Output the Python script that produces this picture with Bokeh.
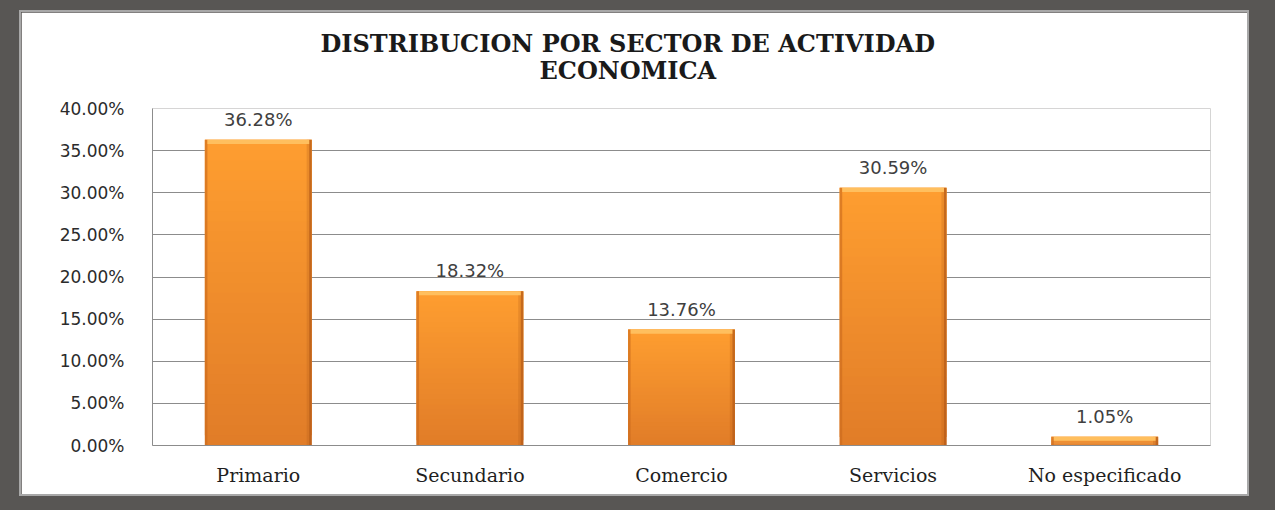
from bokeh.plotting import figure
from bokeh.models import (Range1d, FixedTicker, NumeralTickFormatter, ColumnDataSource,
                          LabelSet, Title, GlobalInlineStyleSheet)
from bokeh.core.properties import value
from bokeh.embed import file_html
from bokeh.resources import INLINE

# ---- data ----
categories = ["Primario", "Secundario", "Comercio", "Servicios", "No especificado"]
shares = [0.3628, 0.1832, 0.1376, 0.3059, 0.0105]
y_ticks = [0.0, 0.05, 0.10, 0.15, 0.20, 0.25, 0.30, 0.35, 0.40]
title_line1 = "DISTRIBUCION  POR SECTOR  DE ACTIVIDAD"
title_line2 = "ECONOMICA"

# ---- style ----
SERIF = "DejaVu Serif"
SANS = "DejaVu Sans"
FRAME_DARK = "#585654"
GRID = "#8c8c8c"
BAR_W = 0.505
TOP_RGB = (255, 158, 48)
BOT_RGB = (224, 124, 40)

xs = [i + 0.5 for i in range(len(categories))]

p = figure(width=1226, height=482, output_backend="svg", toolbar_location=None,
           x_range=Range1d(0, len(categories)), y_range=Range1d(0, 0.40),
           min_border_left=131, min_border_right=37, min_border_top=96, min_border_bottom=49,
           border_fill_color="white", background_fill_color="white",
           outline_line_color=None, margin=(12, 0, 0, 21))
p.stylesheets = [GlobalInlineStyleSheet(css=f"html, body {{ background-color: {FRAME_DARK}; }}")]
p.styles = {"outline": "2px solid #a8a8a8"}

# gradient bars built from overlapping slices of each value
N = 30
left, right, bottom, top, colors = [], [], [], [], []
for x, v in zip(xs, shares):
    for j in range(N):
        f = (j + 0.5) / N
        c = tuple(int(round(BOT_RGB[k] + (TOP_RGB[k] - BOT_RGB[k]) * f)) for k in range(3))
        left.append(x - BAR_W / 2)
        right.append(x + BAR_W / 2)
        bottom.append(v * j / N)
        top.append(min(v, v * (j + 2) / N))
        colors.append("#%02x%02x%02x" % c)
p.quad(left=left, right=right, bottom=bottom, top=top, fill_color=colors, line_color=None)

# darker side edges (soft)
edge = 0.012
p.quad(left=[x - BAR_W / 2 for x in xs], right=[x - BAR_W / 2 + edge for x in xs],
       bottom=[0] * len(xs), top=shares, fill_color="#c9691d", line_color=None, fill_alpha=0.6)
p.quad(left=[x + BAR_W / 2 - edge for x in xs], right=[x + BAR_W / 2 for x in xs],
       bottom=[0] * len(xs), top=shares, fill_color="#b35a18", line_color=None, fill_alpha=0.75)
p.quad(left=[x + BAR_W / 2 - edge * 2 for x in xs], right=[x + BAR_W / 2 - edge for x in xs],
       bottom=[0] * len(xs), top=shares, fill_color="#b35a18", line_color=None, fill_alpha=0.25)
# light top bevel
p.quad(left=[x - BAR_W / 2 + edge for x in xs], right=[x + BAR_W / 2 - edge for x in xs],
       bottom=[max(v - 0.005, v * 0.4) for v in shares], top=shares,
       fill_color="#ffbf5e", line_color=None)

# value labels
src = ColumnDataSource(dict(x=xs, y=shares, t=["%.2f%%" % (v * 100) for v in shares]))
p.add_layout(LabelSet(x="x", y="y", text="t", source=src, y_offset=14,
                      text_align="center", text_baseline="alphabetic",
                      text_font=value(SANS), text_font_size=value("18px"),
                      text_color="#404040"))

# axes
p.yaxis.ticker = FixedTicker(ticks=y_ticks)
p.yaxis.formatter = NumeralTickFormatter(format="0.00%")
p.yaxis.major_tick_line_color = None
p.yaxis.minor_tick_line_color = None
p.yaxis.axis_line_color = GRID
p.yaxis.major_label_standoff = 22
p.yaxis.major_label_text_font = SANS
p.yaxis.major_label_text_font_size = "17px"
p.yaxis.major_label_text_color = "#2b2b2b"

p.xaxis.ticker = FixedTicker(ticks=xs)
p.xaxis.major_label_overrides = {x: c for x, c in zip(xs, categories)}
p.xaxis.major_tick_line_color = None
p.xaxis.minor_tick_line_color = None
p.xaxis.axis_line_color = GRID
p.xaxis.major_label_standoff = 12
p.xaxis.major_label_text_font = SERIF
p.xaxis.major_label_text_font_size = "19px"
p.xaxis.major_label_text_color = "#1f1f1f"

p.xgrid.grid_line_color = None
p.ygrid.ticker = FixedTicker(ticks=y_ticks)
p.ygrid.grid_line_color = GRID

# title (two lines)
p.add_layout(Title(text=title_line2, align="left", offset=387, standoff=47,
                   text_font=SERIF, text_font_size="24px", text_font_style="bold",
                   text_color="#1a1a1a"), "above")
p.add_layout(Title(text=title_line1, align="left", offset=168, standoff=-55,
                   text_font=SERIF, text_font_size="24px", text_font_style="bold",
                   text_color="#1a1a1a"), "above")

open("out.html", "w").write(file_html(p, INLINE))
